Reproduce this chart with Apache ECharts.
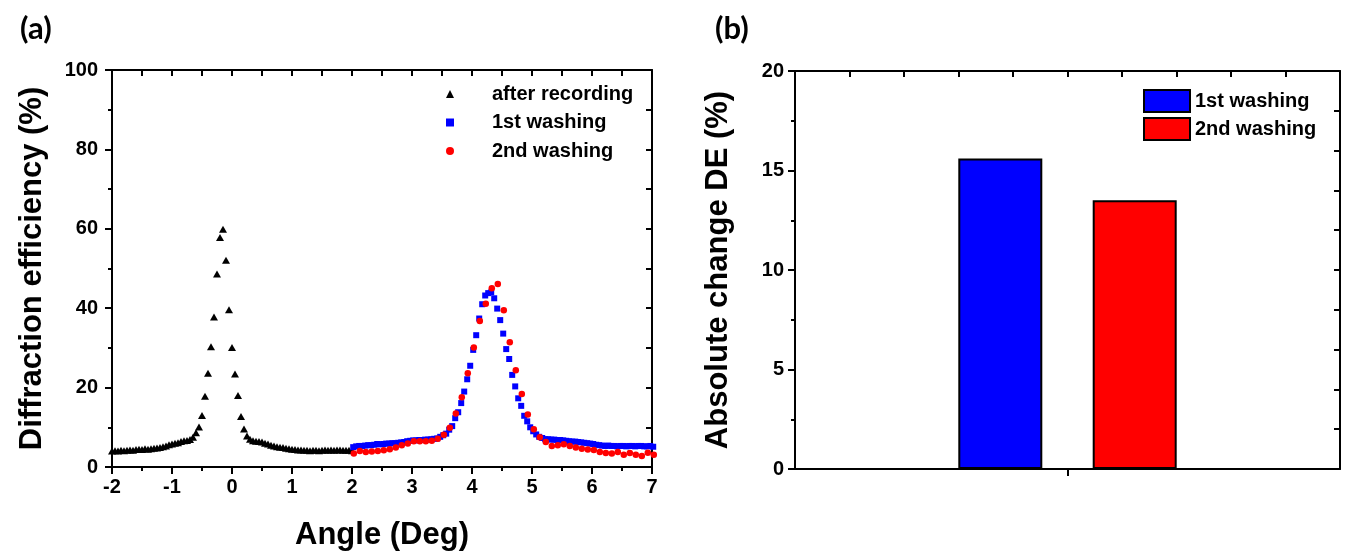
<!DOCTYPE html>
<html>
<head>
<meta charset="utf-8">
<script src="https://cdn.jsdelivr.net/npm/echarts@6/dist/echarts.min.js"></script>
<style>
  html, body { margin: 0; padding: 0; background: #fff; }
  #chart { width: 1346px; height: 556px; }
</style>
</head>
<body>
<div id="chart"></div>
<script>
// (a) angular selectivity
const afterAngle = [
  -2.00, -1.95, -1.90, -1.85, -1.80, -1.75, -1.70, -1.65, -1.60, -1.55,
  -1.50, -1.45, -1.40, -1.35, -1.30, -1.25, -1.20, -1.15, -1.10, -1.05,
  -1.00, -0.95, -0.90, -0.85, -0.80, -0.75, -0.70, -0.65, -0.60, -0.55,
  -0.50, -0.45, -0.40, -0.35, -0.30, -0.25, -0.20, -0.15, -0.10, -0.05,
  0.00, 0.05, 0.10, 0.15, 0.20, 0.25, 0.30, 0.35, 0.40, 0.45,
  0.50, 0.55, 0.60, 0.65, 0.70, 0.75, 0.80, 0.85, 0.90, 0.95,
  1.00, 1.05, 1.10, 1.15, 1.20, 1.25, 1.30, 1.35, 1.40, 1.45,
  1.50, 1.55, 1.60, 1.65, 1.70, 1.75, 1.80, 1.85, 1.90, 1.95, 2.00
];
const afterDE = [
  4.0, 4.1, 4.0, 4.2, 4.1, 4.2, 4.3, 4.2, 4.4, 4.5,
  4.4, 4.6, 4.5, 4.6, 4.7, 4.8, 4.9, 5.1, 5.3, 5.6,
  5.8, 6.0, 6.1, 6.4, 6.6, 6.7, 6.9, 7.5, 8.6, 10.1,
  13.0, 17.8, 23.6, 30.3, 37.8, 48.6, 57.8, 59.9, 52.1, 39.6,
  30.1, 23.4, 18.0, 12.7, 9.6, 7.8, 7.0, 6.6, 6.5, 6.4,
  6.3, 6.0, 5.8, 5.5, 5.3, 5.1, 5.0, 4.9, 4.7, 4.6,
  4.5, 4.4, 4.3, 4.3, 4.2, 4.2, 4.1, 4.2, 4.2, 4.1,
  4.2, 4.3, 4.2, 4.3, 4.2, 4.3, 4.3, 4.2, 4.2, 4.2, 4.1
];

const wash1Angle = [
  2.02, 2.07, 2.12, 2.17, 2.22, 2.27, 2.32, 2.37, 2.42, 2.47,
  2.52, 2.57, 2.62, 2.67, 2.72, 2.77, 2.82, 2.87, 2.92, 2.97,
  3.02, 3.07, 3.12, 3.17, 3.22, 3.27, 3.32, 3.37, 3.42, 3.47,
  3.52, 3.57, 3.62, 3.67, 3.72, 3.77, 3.82, 3.87, 3.92, 3.97,
  4.02, 4.07, 4.12, 4.17, 4.22, 4.27, 4.32, 4.37, 4.42, 4.47,
  4.52, 4.57, 4.62, 4.67, 4.72, 4.77, 4.82, 4.87, 4.92, 4.97,
  5.02, 5.07, 5.12, 5.17, 5.22, 5.27, 5.32, 5.37, 5.42, 5.47,
  5.52, 5.57, 5.62, 5.67, 5.72, 5.77, 5.82, 5.87, 5.92, 5.97,
  6.02, 6.07, 6.12, 6.17, 6.22, 6.27, 6.32, 6.37, 6.42, 6.47,
  6.52, 6.57, 6.62, 6.67, 6.72, 6.77, 6.82, 6.87, 6.92, 6.97, 7.02
];
const wash1DE = [
  5.0, 5.2, 5.3, 5.3, 5.4, 5.5, 5.5, 5.6, 5.8, 5.7,
  5.8, 5.9, 5.9, 6.0, 6.0, 6.1, 6.2, 6.3, 6.5, 6.6,
  6.7, 6.7, 6.8, 6.8, 6.9, 6.9, 7.0, 7.1, 7.2, 7.6,
  8.0, 8.4, 9.4, 10.3, 12.3, 13.8, 16.1, 19.0, 22.1, 25.5,
  29.5, 33.2, 37.4, 41.0, 43.2, 43.8, 44.0, 42.5, 39.9, 37.0,
  33.6, 29.7, 27.2, 23.2, 20.3, 17.3, 15.4, 12.9, 11.5, 10.0,
  9.0, 8.2, 7.6, 7.3, 7.0, 7.0, 6.9, 6.9, 6.8, 6.8,
  6.7, 6.6, 6.5, 6.4, 6.4, 6.3, 6.2, 6.1, 6.0, 5.9,
  5.8, 5.6, 5.5, 5.4, 5.3, 5.4, 5.3, 5.3, 5.2, 5.3,
  5.3, 5.2, 5.3, 5.3, 5.2, 5.3, 5.3, 5.2, 5.2, 5.3, 5.1
];

const wash2Angle = [
  2.03, 2.13, 2.23, 2.33, 2.43, 2.53, 2.63, 2.73, 2.83, 2.93,
  3.03, 3.13, 3.23, 3.33, 3.43, 3.53, 3.63, 3.73, 3.83, 3.93,
  4.03, 4.13, 4.23, 4.33, 4.43, 4.53, 4.63, 4.73, 4.83, 4.93,
  5.03, 5.13, 5.23, 5.33, 5.43, 5.53, 5.63, 5.73, 5.83, 5.93,
  6.03, 6.13, 6.23, 6.33, 6.43, 6.53, 6.63, 6.73, 6.83, 6.93, 7.03
];
const wash2DE = [
  3.4, 4.0, 3.8, 3.9, 4.0, 4.2, 4.5, 4.9, 5.5, 5.9,
  6.5, 6.5, 6.5, 6.6, 7.1, 8.1, 9.9, 13.5, 17.6, 23.6,
  30.1, 36.8, 41.1, 45.0, 46.1, 39.5, 31.4, 24.4, 18.4, 13.2,
  9.5, 7.5, 6.3, 5.3, 5.5, 5.7, 5.3, 4.9, 4.6, 4.4,
  4.3, 3.8, 3.5, 3.4, 3.8, 3.1, 3.5, 3.1, 2.8, 3.6, 3.1
];

// (b) absolute change of DE
const washNames = ['1st washing', '2nd washing'];
const changeDE = [15.6, 13.5];
const washColors = ['#0000FF', '#FF0000'];

const FONT = 'Liberation Sans';
const txt = { color: '#000', fontFamily: FONT, fontWeight: 'bold', fontSize: 20 };
const nameTxt = { color: '#000', fontFamily: FONT, fontWeight: 'bold', fontSize: 31 };
const blackLine = { color: '#000', width: 2 };

function pairs(xs, ys) {
    return xs.map((x, i) => [x, ys[i]]);
}

// frame axis: line + inward ticks, no labels
function frameAxis(extra) {
    return Object.assign({
        type: 'value',
        axisLine: { show: true, onZero: false, lineStyle: blackLine },
        axisTick: { show: true, inside: true, length: 6, lineStyle: blackLine },
        axisLabel: { show: false },
        splitLine: { show: false }
    }, extra);
}

const chart = echarts.init(document.getElementById('chart'));

const option = {
    animation: false,
    backgroundColor: '#fff',
    title: [
        { text: '(a)', left: 15, top: 8, textStyle: { fontFamily: 'Lato', fontWeight: 'bold', fontSize: 31, color: '#000' } },
        { text: '(b)', left: 710, top: 8, textStyle: { fontFamily: 'Lato', fontWeight: 'bold', fontSize: 31, color: '#000' } }
    ],
    grid: [
        { left: 112, width: 540, top: 70, height: 400 },
        { left: 795, width: 545, top: 71, height: 398 }
    ],
    legend: [
        {
            orient: 'vertical',
            left: 446, top: 84, padding: 0,
            itemWidth: 8, itemHeight: 8, itemGap: 8.5,
            selectedMode: false,
            data: ['after recording', '1st washing', '2nd washing'],
            formatter: (n) => '{g|}' + n,
            textStyle: Object.assign({}, txt, { rich: { g: { width: 33 } } })
        },
        {
            orient: 'vertical',
            left: 1143, top: 89, padding: 0,
            itemWidth: 46, itemHeight: 22, itemGap: 4,
            selectedMode: false,
            data: washNames.map((n, i) => ({
                name: n,
                icon: 'rect',
                itemStyle: { color: washColors[i], borderColor: '#000', borderWidth: 2 }
            })),
            textStyle: txt
        }
    ],
    xAxis: [
        {
            gridIndex: 0, type: 'value', position: 'bottom',
            min: -2, max: 7, interval: 1,
            axisLine: { show: true, onZero: false, lineStyle: blackLine },
            axisTick: { show: true, inside: false, length: 7, lineStyle: blackLine },
            minorTick: { show: true, splitNumber: 2, length: 4, lineStyle: blackLine },
            splitLine: { show: false },
            axisLabel: Object.assign({ margin: 10 }, txt),
            name: 'Angle (Deg)', nameLocation: 'middle', nameGap: 53,
            nameTextStyle: nameTxt
        },
        frameAxis({ gridIndex: 0, position: 'top', min: -2, max: 7, interval: 0.5 }),
        {
            gridIndex: 1, type: 'category', position: 'bottom',
            data: [''],
            axisLine: { show: true, onZero: false, lineStyle: blackLine },
            axisTick: { show: true, alignWithLabel: true, length: 7, lineStyle: blackLine },
            axisLabel: { show: false },
            splitLine: { show: false }
        },
        frameAxis({ gridIndex: 1, position: 'top', min: 0, max: 10, interval: 1 })
    ],
    yAxis: [
        {
            gridIndex: 0, type: 'value', position: 'left',
            min: 0, max: 100, interval: 20,
            axisLine: { show: true, onZero: false, lineStyle: blackLine },
            axisTick: { show: true, inside: false, length: 7, lineStyle: blackLine },
            minorTick: { show: true, splitNumber: 2, length: 4, lineStyle: blackLine },
            splitLine: { show: false },
            axisLabel: Object.assign({ margin: 14 }, txt),
            name: 'Diffraction efficiency (%)', nameLocation: 'middle', nameGap: 64,
            nameTextStyle: nameTxt
        },
        frameAxis({ gridIndex: 0, position: 'right', min: 0, max: 100, interval: 10 }),
        {
            gridIndex: 1, type: 'value', position: 'left',
            min: 0, max: 20, interval: 5,
            axisLine: { show: true, onZero: false, lineStyle: blackLine },
            axisTick: { show: true, inside: false, length: 7, lineStyle: blackLine },
            minorTick: { show: true, splitNumber: 2, length: 4, lineStyle: blackLine },
            splitLine: { show: false },
            axisLabel: Object.assign({ margin: 11 }, txt),
            name: 'Absolute change DE (%)', nameLocation: 'middle', nameGap: 61,
            nameTextStyle: nameTxt
        },
        frameAxis({ gridIndex: 1, position: 'right', min: 0, max: 20, interval: 2 })
    ],
    series: [
        {
            name: 'after recording', type: 'scatter',
            xAxisIndex: 0, yAxisIndex: 0,
            symbol: 'triangle', symbolSize: [8, 7],
            itemStyle: { color: '#000', opacity: 1 },
            clip: false,
            data: pairs(afterAngle, afterDE)
        },
        {
            name: '1st washing', type: 'scatter',
            xAxisIndex: 0, yAxisIndex: 0,
            symbol: 'rect', symbolSize: 6,
            itemStyle: { color: '#0000FF', opacity: 1 },
            clip: false,
            data: pairs(wash1Angle, wash1DE)
        },
        {
            name: '2nd washing', type: 'scatter',
            xAxisIndex: 0, yAxisIndex: 0,
            symbol: 'circle', symbolSize: 6.5,
            itemStyle: { color: '#FF0000', opacity: 1 },
            clip: false,
            data: pairs(wash2Angle, wash2DE)
        },
        {
            name: washNames[0], type: 'bar',
            xAxisIndex: 2, yAxisIndex: 2,
            barWidth: 84, barGap: '60%',
            itemStyle: { color: washColors[0], borderColor: '#000', borderWidth: 2 },
            data: [changeDE[0]]
        },
        {
            name: washNames[1], type: 'bar',
            xAxisIndex: 2, yAxisIndex: 2,
            barWidth: 84, barGap: '60%',
            itemStyle: { color: washColors[1], borderColor: '#000', borderWidth: 2 },
            data: [changeDE[1]]
        }
    ]
};

chart.setOption(option);
</script>
</body>
</html>
